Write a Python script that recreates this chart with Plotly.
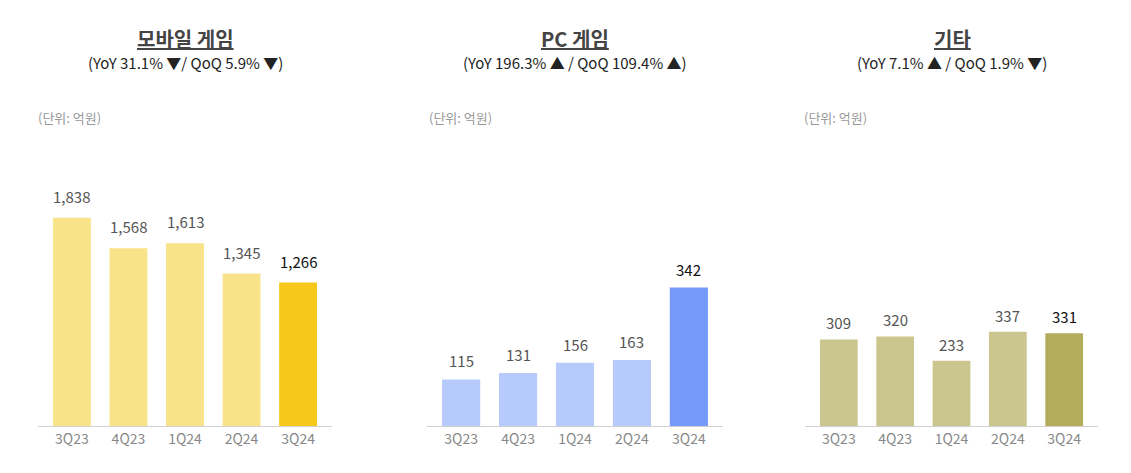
import plotly.graph_objects as go

quarters = ["3Q23", "4Q23", "1Q24", "2Q24", "3Q24"]
mobile = [1838, 1568, 1613, 1345, 1266]
pc = [115, 131, 156, 163, 342]
other = [309, 320, 233, 337, 331]

titles = ["모바일 게임", "PC 게임", "기타"]
subtitles = ["(YoY 31.1% ▼/ QoQ 5.9% ▼)",
             "(YoY 196.3% ▲ / QoQ 109.4% ▲)",
             "(YoY 7.1% ▲ / QoQ 1.9% ▼)"]
unit_label = "(단위: 억원)"

W, H = 1131, 473
FONT = "Noto Sans CJK KR"

panels = [
    dict(vals=mobile, light="#F8E38A", hi="#F5C81A", xpx=(38, 332), ymax=2612, shift=9, center=185, unit_x=36),
    dict(vals=pc, light="#B6CBFB", hi="#7599F8", xpx=(427, 723), ymax=731, shift=6, center=575, unit_x=427),
    dict(vals=other, light="#CBC58E", hi="#B3AC5B", xpx=(805, 1098), ymax=1057, shift=4, center=952, unit_x=802),
]

ydom = [47 / H, (H - 130) / H]

fig = go.Figure()
annotations = []
for i, p in enumerate(panels):
    n = "" if i == 0 else str(i + 1)
    colors = [p["light"]] * (len(quarters) - 1) + [p["hi"]]
    fig.add_trace(go.Bar(
        x=quarters, y=p["vals"], marker=dict(color=colors, line=dict(width=0)),
        xaxis="x" + n, yaxis="y" + n, showlegend=False, hoverinfo="x+y",
    ))
    for j, (q, v) in enumerate(zip(quarters, p["vals"])):
        annotations.append(dict(
            x=q, y=v, xref="x" + n, yref="y" + n, text=f"{v:,}", showarrow=False,
            yanchor="bottom", yshift=p["shift"],
            font=dict(family=FONT, size=15, color="#111111" if j == len(quarters) - 1 else "#555555"),
        ))
    annotations.append(dict(
        x=p["center"] / W, y=1 - 38 / H, xref="paper", yref="paper", showarrow=False,
        text=f"<b><u>{titles[i]}</u></b>", xanchor="center", yanchor="middle",
        font=dict(family=FONT, size=20, color="#444444"),
    ))
    annotations.append(dict(
        x=p["center"] / W, y=1 - 63 / H, xref="paper", yref="paper", showarrow=False,
        text=subtitles[i], xanchor="center", yanchor="middle",
        font=dict(family=FONT, size=15, color="#222222"),
    ))
    annotations.append(dict(
        x=p["unit_x"] / W, y=1 - 117 / H, xref="paper", yref="paper", showarrow=False,
        text=unit_label, xanchor="left", yanchor="middle",
        font=dict(family=FONT, size=13, color="#999999"),
    ))
    fig.update_layout(**{
        "xaxis" + n: dict(domain=[p["xpx"][0] / W, p["xpx"][1] / W], range=[-0.6, 4.6],
                          showline=True, linecolor="#D0D0D0", linewidth=1, showgrid=False,
                          zeroline=False, ticks="", anchor="y" + n,
                          tickfont=dict(family=FONT, size=14, color="#888888")),
        "yaxis" + n: dict(domain=ydom, range=[0, p["ymax"]], visible=False,
                          showgrid=False, zeroline=False, anchor="x" + n),
    })

fig.update_layout(
    width=W, height=H, margin=dict(l=0, r=0, t=0, b=0),
    paper_bgcolor="white", plot_bgcolor="white", bargap=0.33,
    annotations=annotations, font=dict(family=FONT),
)

fig.write_html("out.html", config={"displayModeBar": False},
               post_script="document.body.style.margin='0';document.body.style.overflow='hidden';")
